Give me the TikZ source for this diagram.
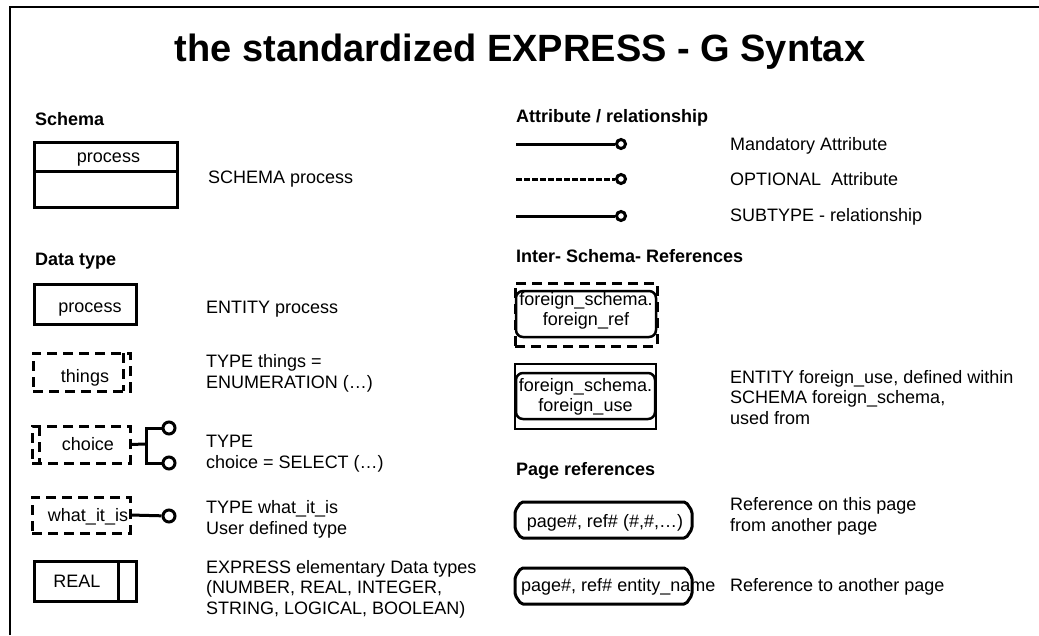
\documentclass[tikz,border=0pt]{standalone}
\usepackage{fontspec}
\setmainfont{Liberation Sans}
\begin{document}
\begin{tikzpicture}[x=1pt,y=-1pt,
  txt/.style={font=\fontsize{18}{20.5}\selectfont, inner sep=0pt, anchor=base west, align=left},
  head/.style={font=\fontsize{18}{20}\selectfont\bfseries, inner sep=0pt, anchor=base west},
  boxtxt/.style={font=\fontsize{18}{20}\selectfont, inner sep=0pt, anchor=base, align=center},
  ebox/.style={draw, line width=3pt, inner sep=0pt, outer sep=0pt},
  tbox/.style={ebox, dash pattern=on 10pt off 6pt},
  dbar/.style={line width=3pt, dash pattern=on 10pt off 6pt},
  sbar/.style={line width=3pt},
  rbox/.style={draw, line width=2.5pt, rounded corners=7pt, inner sep=0pt, outer sep=0pt},
  prefarea/.style={inner sep=0pt, outer sep=0pt, minimum width=177pt, minimum height=36pt},
  prefline/.style={line width=3pt, rounded corners=2pt, line join=round},
  lnk/.style={line width=3pt},
  ring/.style={circle, draw, line width=3pt, inner sep=0pt, minimum size=12pt, fill=white},
  sring/.style={ring, minimum size=9pt},
]
\useasboundingbox (0,0) rectangle (1039,635);
\fill[white] (0,0) rectangle (1039,635);
% page frame (top and left edges)
\draw[line width=2.5pt] (10,635) -- (10,7) -- (1039,7);

% title
\node[font=\fontsize{38}{40}\selectfont\bfseries, inner sep=0pt, anchor=base] (title) at (520,61)
  {the standardized EXPRESS - G Syntax};

% ---------- left column ----------
\node[head] (hschema) at (35,125) {Schema};
\node[ebox, minimum width=143pt, minimum height=29pt] (schtop) at (105.5,156.5) {};
\node[ebox, minimum width=143pt, minimum height=36pt] (schbot) at (105.5,189) {};
\node[boxtxt] (schname) at (108.5,162) {process};
\node[txt] (schdesc) at (208,183) {SCHEMA process};

\node[head] (hdata) at (35,265) {Data type};

% entity
\node[ebox, minimum width=102pt, minimum height=40pt] (ent) at (85,304) {};
\node[boxtxt] (entname) at (90,312) {process};
\node[txt] (entdesc) at (206,313) {ENTITY process};

% enumeration type
\node[tbox, minimum width=97pt, minimum height=38pt] (things) at (81.5,372) {};
\draw[dbar] ([xshift=-7pt]things.north east) -- ([xshift=-7pt]things.south east);
\node[boxtxt] (thingsname) at (85,382) {things};
\node[txt] (thingsdesc) at (206,388) {TYPE things =\\ENUMERATION (…)};

% select type
\node[tbox, minimum width=98pt, minimum height=37pt] (choice) at (81,444.5) {};
\draw[dbar] ([xshift=7pt]choice.north west) -- ([xshift=7pt]choice.south west);
\node[boxtxt] (choicename) at (88,450) {choice};
\coordinate (cj) at (146,444);
\coordinate (ct) at (146,428);
\coordinate (cb) at (146,463);
\node[ring] (c1) at (169,428) {};
\node[ring] (c2) at (169,463) {};
\draw[lnk] (choice.east) -- (cj);
\draw[lnk] (c1) -- (ct) -- (cb) -- (c2);
\node[txt] (choicedesc) at (206,468) {TYPE\\choice = SELECT (…)};

% defined type
\node[tbox, minimum width=98pt, minimum height=36pt] (wii) at (81,515) {};
\node[boxtxt] (wiiname) at (88,521) {what\_it\_is};
\node[ring] (w1) at (169,516) {};
\draw[lnk] (wii.east) -- (w1);
\node[txt] (wiidesc) at (206,534) {TYPE what\_it\_is\\User defined type};

% simple type
\node[ebox, minimum width=102pt, minimum height=40pt] (real) at (85,581) {};
\draw[sbar] ([xshift=-18pt]real.north east) -- ([xshift=-18pt]real.south east);
\node[boxtxt] (realname) at (77,587) {REAL};
\node[txt] (realdesc) at (206,614) {EXPRESS elementary Data types\\(NUMBER, REAL, INTEGER,\\STRING, LOGICAL, BOOLEAN)};

% ---------- right column ----------
\node[head] (hattr) at (516,122) {Attribute / relationship};
\coordinate (a1) at (516,144);
\node[sring] (r1) at (621,144) {};
\draw[line width=3pt] (a1) -- (r1);
\node[txt] (a1desc) at (730,150) {Mandatory Attribute};

\coordinate (a2) at (516,179);
\node[sring] (r2) at (621,179) {};
\draw[line width=3pt, dash pattern=on 6pt off 2pt] (a2) -- (r2);
\node[txt] (a2desc) at (730,185) {OPTIONAL\ \ Attribute};

\coordinate (a3) at (516,216);
\node[sring] (r3) at (621,216) {};
\draw[line width=3pt] (a3) -- (r3);
\node[txt] (a3desc) at (730,221) {SUBTYPE - relationship};

\node[head] (hinter) at (516,262) {Inter- Schema- References};
\node[ebox, dash pattern=on 10pt off 6pt, minimum width=142pt, minimum height=63pt] (frefout) at (586,314.5) {};
\node[rbox, minimum width=140pt, minimum height=46pt] (fref) at (586,314) {};
\node[boxtxt] (freftxt) at (586,325) {foreign\_schema.\\foreign\_ref};

\node[ebox, line width=2.5pt, minimum width=141pt, minimum height=65pt] (fuseout) at (585.5,396.5) {};
\node[rbox, minimum width=139pt, minimum height=46pt] (fuse) at (585.5,396) {};
\node[boxtxt] (fusetxt) at (585.5,411) {foreign\_schema.\\foreign\_use};
\node[txt] (fusedesc) at (730,424) {ENTITY foreign\_use, defined within\\SCHEMA foreign\_schema,\\used from};

\node[head] (hpage) at (516,475) {Page references};
% page reference symbols: rectangles with cut corners
\node[prefarea] (p1) at (603.5,520) {};
\draw[prefline] ([xshift=6pt]p1.north west) -- ([xshift=-6pt]p1.north east)
  -- ([yshift=-9pt]p1.north east) -- ([yshift=9pt]p1.south east)
  -- ([xshift=-6pt]p1.south east) -- ([xshift=6pt]p1.south west)
  -- ([yshift=9pt]p1.south west) -- ([yshift=-9pt]p1.north west) -- cycle;
\node[boxtxt] (p1txt) at (605,527) {page\#, ref\# (\#,\#,…)};
\node[txt] (p1desc) at (730,531) {Reference on this page\\from another page};

\node[prefarea] (p2) at (603.5,586) {};
\draw[prefline] ([xshift=6pt]p2.north west) -- ([xshift=-6pt]p2.north east)
  -- ([yshift=-9pt]p2.north east) -- ([yshift=9pt]p2.south east)
  -- ([xshift=-6pt]p2.south east) -- ([xshift=6pt]p2.south west)
  -- ([yshift=9pt]p2.south west) -- ([yshift=-9pt]p2.north west) -- cycle;
\node[txt] (p2txt) at (521,591) {page\#, ref\# entity\_name};
\node[txt] (p2desc) at (730,591) {Reference to another page};
\end{tikzpicture}
\end{document}
